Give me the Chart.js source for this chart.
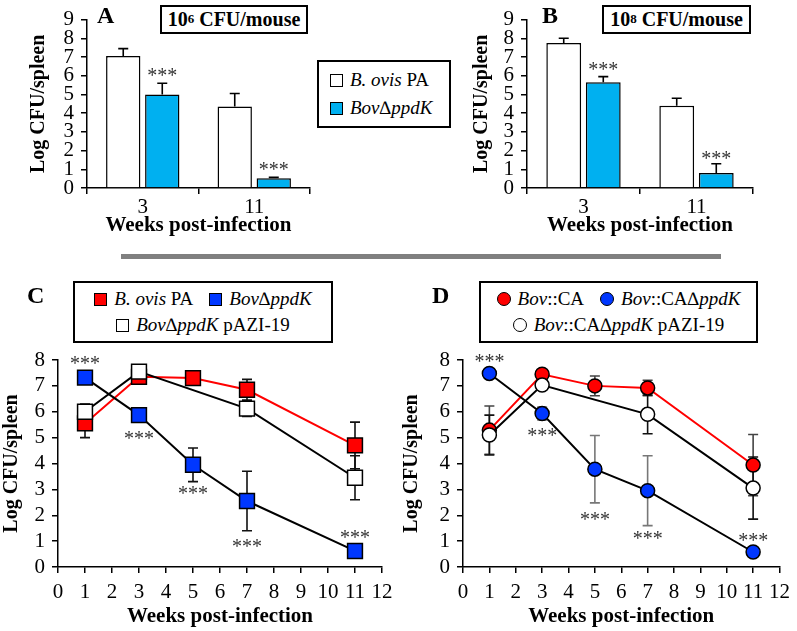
<!DOCTYPE html>
<html>
<head>
<meta charset="utf-8">
<script src="https://cdn.jsdelivr.net/npm/chart.js@4.4.1/dist/chart.umd.min.js"></script>
<style>
  body { margin: 0; background: #fff; }
  #fig { position: relative; width: 797px; height: 631px; overflow: hidden; background: #fff;
         font-family: "Liberation Serif", "Times New Roman", serif; color: #000; }
  #fig canvas { position: absolute; }
  .lbl { position: absolute; font-weight: bold; font-size: 24px; line-height: 24px; }
  .box { position: absolute; border: 2px solid #000; background: #fff; box-sizing: border-box; }
  .dose { font-weight: bold; font-size: 20px; display: flex; align-items: center; justify-content: center; }
  .dose sup { font-size: 13px; position: relative; top: -1px; }
  .leg { font-size: 19px; display: flex; flex-direction: column; justify-content: center; }
  .row { display: flex; align-items: center; justify-content: center; height: 26px; white-space: nowrap; }
  .row.left { justify-content: flex-start; padding-left: 11px; height: 28px; }
  .sw { display: inline-block; width: 11px; height: 11px; border: 1.5px solid #000; margin-right: 7px; }
  .sw.round { border-radius: 50%; width: 12px; height: 12px; }
  .gap { display: inline-block; width: 16px; }
  .rule { position: absolute; left: 121px; top: 254px; width: 600px; height: 5px; background: #808080; }
</style>
</head>
<body>
<div id="fig">
  <canvas id="chartA" width="400" height="240" style="left:0;top:0;width:400px;height:240px"></canvas>
  <canvas id="chartB" width="397" height="240" style="left:400px;top:0;width:397px;height:240px"></canvas>
  <canvas id="chartC" width="400" height="371" style="left:0;top:260px;width:400px;height:371px"></canvas>
  <canvas id="chartD" width="397" height="371" style="left:400px;top:260px;width:397px;height:371px"></canvas>

  <div class="lbl" style="left:97px;top:3px">A</div>
  <div class="lbl" style="left:542px;top:3px">B</div>
  <div class="lbl" style="left:27px;top:283px">C</div>
  <div class="lbl" style="left:432px;top:283px">D</div>

  <div class="box dose" style="left:160px;top:5px;width:148px;height:29px">10<sup>6</sup>&nbsp;CFU/mouse</div>
  <div class="box dose" style="left:602px;top:5px;width:149px;height:29px">10<sup>8</sup>&nbsp;CFU/mouse</div>

  <div class="box leg" style="left:317px;top:60px;width:134px;height:68px">
    <div class="row left"><span class="sw" style="background:#fff"></span><i>B. ovis</i>&nbsp;PA</div>
    <div class="row left"><span class="sw" style="background:#00b0f0"></span><i>Bov∆ppdK</i></div>
  </div>

  <div class="rule"></div>

  <div class="box leg" style="left:73px;top:281px;width:260px;height:62px">
    <div class="row"><span class="sw" style="background:#ff0000"></span><i>B. ovis</i>&nbsp;PA<span class="gap"></span><span class="sw" style="background:#0037ff"></span><i>Bov∆ppdK</i></div>
    <div class="row"><span class="sw" style="background:#fff"></span><i>Bov∆ppdK</i>&nbsp;pAZI-19</div>
  </div>

  <div class="box leg" style="left:479px;top:281px;width:279px;height:62px">
    <div class="row"><span class="sw round" style="background:#ff0000"></span><i>Bov</i>::CA<span class="gap"></span><span class="sw round" style="background:#0037ff"></span><i>Bov</i>::CA∆<i>ppdK</i></div>
    <div class="row"><span class="sw round" style="background:#fff"></span><i>Bov</i>::CA∆<i>ppdK</i>&nbsp;pAZI-19</div>
  </div>
</div>

<script>
// bar panels (A: 10^6, B: 10^8)
const barWeeks = ["3", "11"];
const aPA = [7.05, 4.35];
const aPAErr = [0.4, 0.7];
const aPpdk = [5.0, 0.52];
const aPpdkErr = [0.6, 0.05];
const aStars = [6.2, 1.18];
const bPA = [7.75, 4.4];
const bPAErr = [0.25, 0.4];
const bPpdk = [5.65, 0.8];
const bPpdkErr = [0.3, 0.5];
const bStars = [6.5, 1.75];

// time course panels (C, D)
const weeks = [1, 3, 5, 7, 11];
const compWeeks = [1, 3, 7, 11];
const cPA = [5.55, 7.35, 7.3, 6.85, 4.7];
const cPAErr = [0.55, 0.1, 0.1, 0.4, 0.9];
const cPpdk = [7.32, 5.87, 3.95, 2.55, 0.62];
const cPpdkErr = [0.2, 0.2, 0.65, 1.15, 0.05];
const cComp = [6.0, 7.55, 6.12, 3.45];
const cCompErr = [0.3, 0.1, 0.3, 0.85];
const cStars = [[1, 8.0], [3, 5.1], [5, 2.97], [7, 0.92], [11, 1.27]];

const dCA = [5.29, 7.45, 7.0, 6.92, 3.94];
const dCAErr = [0.93, 0.1, 0.38, 0.3, 1.18];
const dPpdk = [7.48, 5.93, 3.78, 2.95, 0.58];
const dPpdkErr = [0.1, 0.25, 1.3, 1.35, 0.05];
const dComp = [5.1, 7.03, 5.9, 3.05];
const dCompErr = [0.77, 0.1, 0.75, 1.2];
const dStars = [[1, 8.08], [3, 5.2], [5, 1.97], [7, 1.23], [11, 1.17]];

const FONT = "'Liberation Serif', 'Times New Roman', serif";

const extras = {
  id: "extras",
  beforeDatasetsDraw(chart, args, opts) {
    const { ctx, scales } = chart;
    (opts.errors || []).forEach((e) => {
      const meta = chart.getDatasetMeta(e.dataset);
      const vals = chart.data.datasets[e.dataset].data;
      ctx.save();
      ctx.strokeStyle = e.color;
      ctx.lineWidth = 1.6;
      meta.data.forEach((pt, i) => {
        const err = e.values[i];
        if (err == null) return;
        const v = typeof vals[i] === "object" ? vals[i].y : vals[i];
        const top = scales.y.getPixelForValue(v + err);
        const bot = scales.y.getPixelForValue(e.upOnly ? v : v - err);
        ctx.beginPath();
        ctx.moveTo(pt.x, top);
        ctx.lineTo(pt.x, bot);
        ctx.moveTo(pt.x - e.cap, top);
        ctx.lineTo(pt.x + e.cap, top);
        if (!e.upOnly) {
          ctx.moveTo(pt.x - e.cap, bot);
          ctx.lineTo(pt.x + e.cap, bot);
        }
        ctx.stroke();
      });
      ctx.restore();
    });
  },
  afterDatasetsDraw(chart, args, opts) {
    const { ctx, scales } = chart;
    ctx.save();
    ctx.fillStyle = "#333";
    ctx.font = "20px " + FONT;
    ctx.textAlign = "center";
    ctx.textBaseline = "alphabetic";
    (opts.stars || []).forEach((s) => {
      let x;
      if (chart.config.type === "bar") {
        x = chart.getDatasetMeta(1).data[s[0]].x;
      } else {
        x = scales.x.getPixelForValue(s[0]);
      }
      const y = scales.y.getPixelForValue(s[1]);
      ctx.fillText("***", x, y + 10);
    });
    ctx.restore();
  },
};

const yAxis = (max, width, titlePad) => ({
  min: 0,
  max: max,
  ticks: { stepSize: 1, autoSkip: false, color: "#000", font: { family: FONT, size: 21 }, padding: 7 },
  grid: { drawOnChartArea: false, tickLength: 6, color: "#000", lineWidth: 1.5 },
  border: { color: "#000", width: 1.5 },
  title: {
    display: true,
    text: "Log CFU/spleen",
    color: "#000",
    font: { family: FONT, size: 20, weight: "bold" },
    padding: { top: titlePad, bottom: 0 },
  },
  afterFit: (s) => { s.width = width; },
});

const xTitle = {
  display: true,
  text: "Weeks post-infection",
  color: "#000",
  font: { family: FONT, size: 21, weight: "bold" },
  padding: { top: 0, bottom: 2 },
};

const makeBars = (id, pa, paErr, ppdk, ppdkErr, stars, yWidth, titlePad, right) => {
  new Chart(document.getElementById(id), {
    type: "bar",
    data: {
      labels: barWeeks,
      datasets: [
        { label: "B. ovis PA", data: pa, backgroundColor: "#ffffff", borderColor: "#000", borderWidth: 1.5 },
        { label: "Bov∆ppdK", data: ppdk, backgroundColor: "#00b0f0", borderColor: "#000", borderWidth: 1.5 },
      ],
    },
    options: {
      responsive: false,
      animation: false,
      categoryPercentage: 0.7,
      barPercentage: 0.88,
      layout: { padding: { top: 11, right: right, left: 0, bottom: 0 } },
      plugins: {
        legend: { display: false },
        tooltip: { enabled: false },
        extras: {
          errors: [
            { dataset: 0, values: paErr, color: "#000", cap: 5, upOnly: true },
            { dataset: 1, values: ppdkErr, color: "#000", cap: 5, upOnly: true },
          ],
          stars: stars.map((v, i) => [i, v]),
        },
      },
      scales: {
        x: {
          ticks: { color: "#000", font: { family: FONT, size: 21 }, padding: 1 },
          grid: { drawOnChartArea: false, tickLength: 6, color: "#000", lineWidth: 1.5 },
          border: { color: "#000", width: 1.5 },
          title: xTitle,
          afterFit: (s) => { s.height = 52; },
        },
        y: yAxis(9, yWidth, titlePad),
      },
    },
    plugins: [extras],
  });
};

const pts = (xs, ys) => xs.map((x, i) => ({ x: x, y: ys[i] }));

const makeLines = (id, style, radius, red, redErr, blue, blueErr, comp, compErr, stars, yWidth, titlePad, right, blueErrColor, redErrColor) => {
  const common = { pointStyle: style, pointRadius: radius, pointBorderColor: "#000", pointBorderWidth: 1.5, borderWidth: 2 };
  new Chart(document.getElementById(id), {
    type: "line",
    data: {
      datasets: [
        { ...common, data: pts(weeks, red), borderColor: "#ff0000", pointBackgroundColor: "#ff0000", order: 3 },
        { ...common, data: pts(weeks, blue), borderColor: "#000", pointBackgroundColor: "#0037ff", order: 2 },
        { ...common, data: pts(compWeeks, comp), borderColor: "#000", pointBackgroundColor: "#ffffff", order: 1 },
      ],
    },
    options: {
      responsive: false,
      animation: false,
      layout: { padding: { top: 100, right: right, left: 0, bottom: 0 } },
      plugins: {
        legend: { display: false },
        tooltip: { enabled: false },
        extras: {
          errors: [
            { dataset: 0, values: redErr, color: redErrColor, cap: 5 },
            { dataset: 1, values: blueErr, color: blueErrColor, cap: 5 },
            { dataset: 2, values: compErr, color: "#111", cap: 5 },
          ],
          stars: stars,
        },
      },
      scales: {
        x: {
          type: "linear",
          min: 0,
          max: 12,
          ticks: { stepSize: 1, autoSkip: false, maxRotation: 0, color: "#000", font: { family: FONT, size: 21 }, padding: 7 },
          grid: { drawOnChartArea: false, tickLength: 6, color: "#000", lineWidth: 1.5 },
          border: { color: "#000", width: 1.5 },
          title: xTitle,
          afterFit: (s) => { s.height = 64; },
        },
        y: yAxis(8, yWidth, titlePad),
      },
    },
    plugins: [extras],
  });
};

makeBars("chartA", aPA, aPAErr, aPpdk, aPpdkErr, aStars, 87, 27, 90);
makeBars("chartB", bPA, bPAErr, bPpdk, bPpdkErr, bStars, 127, 70, 44);
makeLines("chartC", "rect", 10.5, cPA, cPAErr, cPpdk, cPpdkErr, cComp, cCompErr, cStars, 58, 0, 18, "#111", "#111");
makeLines("chartD", "circle", 7, dCA, dCAErr, dPpdk, dPpdkErr, dComp, dCompErr, dStars, 63, 0, 10, "#777", "#444");
</script>
</body>
</html>
